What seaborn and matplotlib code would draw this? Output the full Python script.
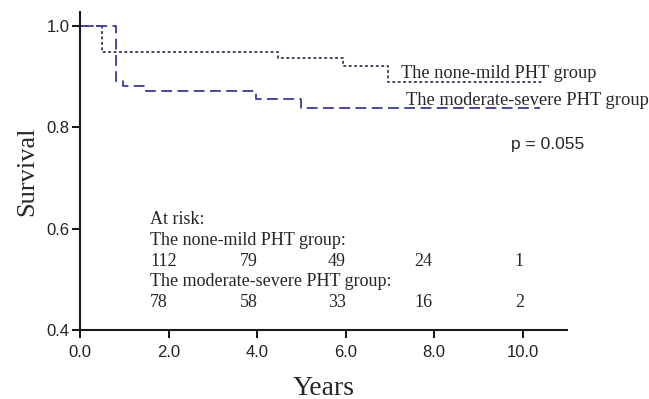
import matplotlib
matplotlib.use("Agg")
import matplotlib.pyplot as plt
import seaborn as sns
import pandas as pd

# Data
groups = ["The none-mild PHT group", "The moderate-severe PHT group"]
mild_time = [0.0, 0.49, 4.48, 5.94, 6.95, 10.45]
mild_surv = [1.0, 0.949, 0.936, 0.920, 0.889, 0.889]
mod_time = [0.0, 0.81, 0.97, 1.50, 3.97, 4.99, 10.40]
mod_surv = [1.0, 0.891, 0.881, 0.872, 0.855, 0.838, 0.838]
risk_times = [1.58, 3.61, 5.60, 7.56, 9.82]
mild_risk = ["112", "79", "49", "24", "1"]
mod_risk = ["78", "58", "33", "16", "2"]
x_ticks = [0.0, 2.0, 4.0, 6.0, 8.0, 10.0]
y_ticks = [0.4, 0.6, 0.8, 1.0]
p_text = "p = 0.055"

df = pd.concat([
    pd.DataFrame({"Years": mild_time, "Survival": mild_surv, "group": groups[0]}),
    pd.DataFrame({"Years": mod_time, "Survival": mod_surv, "group": groups[1]}),
])

sns.set_style("ticks")
plt.rcParams["font.family"] = ["Liberation Serif", "DejaVu Serif"]
SANS = ["Liberation Sans", "DejaVu Sans"]

fig = plt.figure(figsize=(6.49, 3.99), dpi=100)
ax = fig.add_axes([0.1233, 0.173, 0.7504, 0.7977])

sns.lineplot(data=df, x="Years", y="Survival", hue="group", style="group",
             palette={groups[0]: "#3b3b5c", groups[1]: "#3838a8"},
             dashes={groups[0]: (1.6, 1.4), groups[1]: (6, 3)},
             estimator=None, sort=False, drawstyle="steps-post",
             linewidth=1.3, legend=False, ax=ax)

ax.set_xlim(0, 11.0)
ax.set_ylim(0.4, 1.028)
ax.set_xticks(x_ticks)
ax.set_xticklabels([f"{t:.1f}" for t in x_ticks], family=SANS)
ax.set_yticks(y_ticks)
ax.set_yticklabels([f"{t:.1f}" for t in y_ticks], family=SANS)
ax.tick_params(axis="both", labelsize=12, length=6, width=1.3, color="black", labelcolor="#222222")
ax.tick_params(axis="y", pad=1.5)
ax.tick_params(axis="x", pad=5)
for s in ["top", "right"]:
    ax.spines[s].set_visible(False)
for s in ["left", "bottom"]:
    ax.spines[s].set_linewidth(1.5)
    ax.spines[s].set_color("#1a1a1a")

ax.set_xlabel("Years", fontsize=20, labelpad=11)
ax.set_ylabel("Survival", fontsize=19, labelpad=6)

ax.text(7.25, 0.8975, groups[0], fontsize=13.2, va="baseline", ha="left")
ax.text(7.36, 0.844, groups[1], fontsize=13.3, va="baseline", ha="left")
ax.text(9.74, 0.765, p_text, fontsize=12.5, va="center", ha="left", family=SANS)

ax.text(risk_times[0], 0.617, "At risk:", fontsize=13, va="center", ha="left")
ax.text(risk_times[0], 0.576, groups[0] + ":", fontsize=13, va="center", ha="left")
for t, v in zip(risk_times, mild_risk):
    ax.text(t, 0.535, v, fontsize=13, va="center", ha="left")
ax.text(risk_times[0], 0.495, groups[1] + ":", fontsize=13, va="center", ha="left")
for t, v in zip(risk_times, mod_risk):
    ax.text(t, 0.455, v, fontsize=13, va="center", ha="left")

fig.savefig("out.png", dpi=100)
